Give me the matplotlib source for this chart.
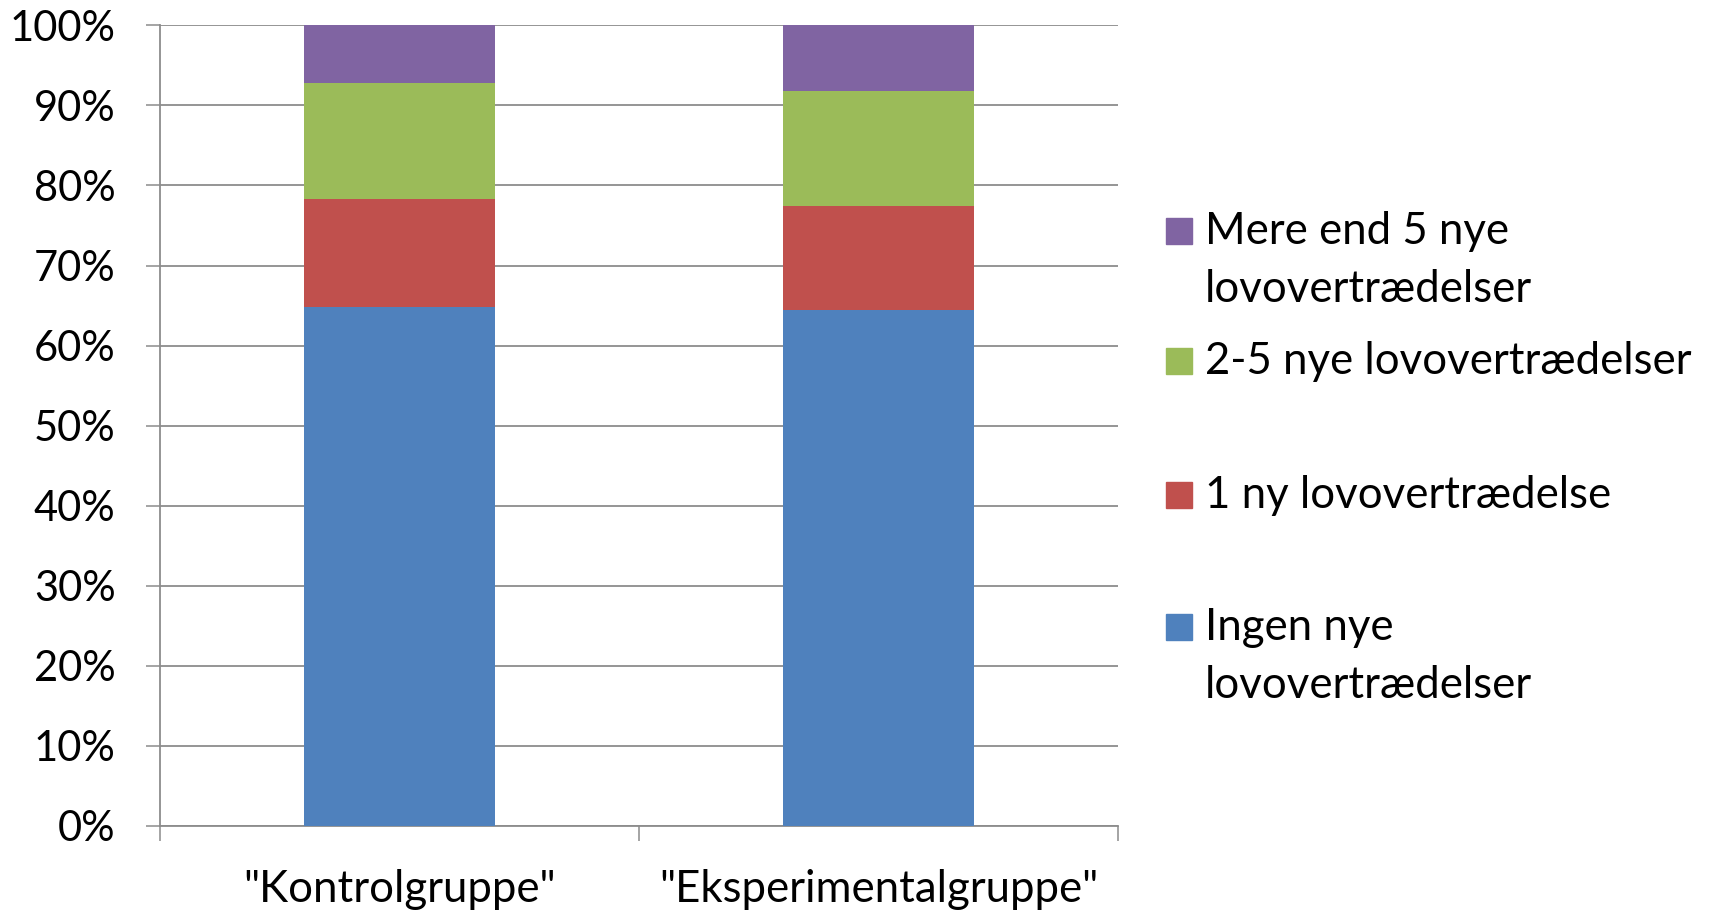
import matplotlib
matplotlib.use("Agg")
import matplotlib.pyplot as plt
from matplotlib.patches import Rectangle
import numpy as np

# data (percent)
groups = ['"Kontrolgruppe"', '"Eksperimentalgruppe"']
ingen = [64.8, 64.4]
en_ny = [13.5, 13.0]
to_fem = [14.5, 14.4]
over_fem = [7.2, 8.2]

series_labels = ["Ingen nye\nlovovertrædelser", "1 ny lovovertrædelse",
                 "2-5 nye lovovertrædelser", "Mere end 5 nye\nlovovertrædelser"]
colors = ["#4F81BD", "#C0504D", "#9BBB59", "#8064A2"]
yticks = [0, 10, 20, 30, 40, 50, 60, 70, 80, 90, 100]

plt.rcParams['font.family'] = ['Lato', 'DejaVu Sans']
grid_col = "#8c8c8c"

fig = plt.figure(figsize=(17.13, 9.14), dpi=100)
ax = fig.add_axes([0.0934, 0.0963, 0.5593, 0.876])

x = np.arange(len(groups))
bottom = np.zeros(len(groups))
for vals, col in zip([ingen, en_ny, to_fem, over_fem], colors):
    ax.bar(x, vals, width=0.4, bottom=bottom, color=col, zorder=3)
    bottom += np.array(vals)

ax.set_xlim(-0.5, 1.5)
ax.set_ylim(0, 100)
ax.set_yticks(yticks)
ax.set_yticklabels([f"{t}%" for t in yticks])
ax.yaxis.grid(True, color=grid_col, linewidth=1.3, zorder=0)

ax.set_xticks([-0.5, 0.5, 1.5])
ax.set_xticklabels([])
ax.set_xticks(x, minor=True)
ax.set_xticklabels(groups, minor=True)
ax.tick_params(axis="x", which="major", length=11, width=1.1, color=grid_col, direction="out")
ax.tick_params(axis="x", which="minor", length=0, pad=31, labelsize=31.5)
ax.tick_params(axis="y", length=10, width=1.1, color=grid_col, pad=22, labelsize=30)

for side in ["top", "right"]:
    ax.spines[side].set_visible(False)
for side in ["left", "bottom"]:
    ax.spines[side].set_color(grid_col)
    ax.spines[side].set_linewidth(1.3)

# legend drawn by hand so the swatch sits at the first text line
W, H = 1713.0, 914.0
leg_y = [627, 495, 361, 231]
for lab, col, yy in zip(series_labels, colors, leg_y):
    fig.add_artist(Rectangle((1166 / W, 1 - (yy + 13) / H), 26 / W, 26 / H,
                             transform=fig.transFigure, color=col))
    lines = lab.split("\n")
    for i, ln in enumerate(lines):
        fig.text(1205 / W, 1 - (yy + i * 58) / H, ln, fontsize=31.5,
                 va="center", ha="left")

fig.savefig("out.png", dpi=100)
